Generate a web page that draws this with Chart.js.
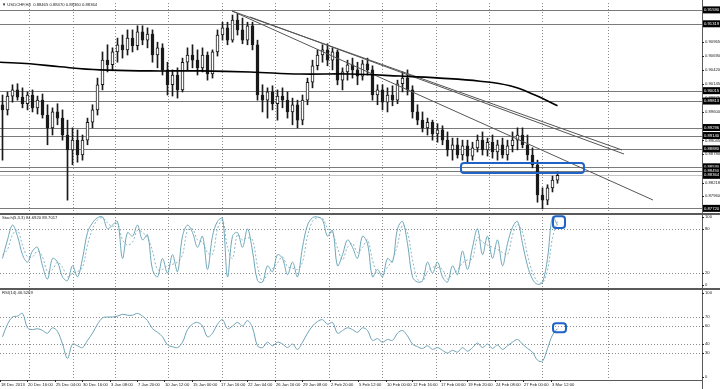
<!DOCTYPE html>
<html>
<head>
<meta charset="utf-8">
<script src="https://cdn.jsdelivr.net/npm/chart.js@4.4.1/dist/chart.umd.min.js"></script>
<style>
  body { margin: 0; background: #fff; width: 720px; height: 389px; overflow: hidden; }
  canvas { position: absolute; left: 0; }
</style>
</head>
<body>
<canvas id="main" width="720" height="213" style="top:0px"></canvas>
<canvas id="stoch" width="720" height="75" style="top:213px"></canvas>
<canvas id="rsi" width="720" height="101" style="top:288px"></canvas>
<script>
// USDCHF H4 candles (one bar here ~ 12 hours of the original)
const opens = [
  0.8974, 0.8964, 0.8991, 0.9003, 0.8989, 0.8976, 0.8993, 0.8968, 0.8983, 0.8954,
  0.8929, 0.8960, 0.8948, 0.8915, 0.8886, 0.8905, 0.8876, 0.8905, 0.8940, 0.8964,
  0.9013, 0.9061, 0.9052, 0.9077, 0.9091, 0.9081, 0.9104, 0.9089, 0.9116, 0.9100,
  0.9112, 0.9071, 0.9085, 0.9042, 0.9013, 0.9032, 0.9003, 0.9057, 0.9071, 0.9061,
  0.9046, 0.9071, 0.9034, 0.9077, 0.9110, 0.9124, 0.9100, 0.9139, 0.9120, 0.9100,
  0.9128, 0.9091, 0.8993, 0.8983, 0.8999, 0.8976, 0.8991, 0.8983, 0.8960, 0.8974,
  0.8944, 0.8983, 0.9018, 0.9050, 0.9071, 0.9081, 0.9061, 0.9077, 0.9022, 0.9038,
  0.9052, 0.9042, 0.9030, 0.9054, 0.9042, 0.8993, 0.9003, 0.8979, 0.8993, 0.8983,
  0.9015, 0.9026, 0.9003, 0.8960, 0.8944, 0.8929, 0.8940, 0.8917, 0.8925, 0.8905,
  0.8886, 0.8896, 0.8876, 0.8894, 0.8874, 0.8890, 0.8905, 0.8886, 0.8901, 0.8882,
  0.8896, 0.8876, 0.8894, 0.8905, 0.8915, 0.8896, 0.8876, 0.8857, 0.8798, 0.8788,
  0.8812, 0.8827,
];
const highs = [
  0.8993, 0.8999, 0.9013, 0.9015, 0.9007, 0.8999, 0.9003, 0.8991, 0.8995, 0.8974,
  0.8968, 0.8976, 0.8964, 0.8944, 0.8929, 0.8925, 0.8915, 0.8948, 0.8974, 0.9026,
  0.9077, 0.9091, 0.9085, 0.9104, 0.9110, 0.9120, 0.9120, 0.9128, 0.9128, 0.9124,
  0.9120, 0.9096, 0.9093, 0.9057, 0.9042, 0.9046, 0.9065, 0.9085, 0.9091, 0.9081,
  0.9085, 0.9077, 0.9081, 0.9120, 0.9135, 0.9135, 0.9149, 0.9151, 0.9143, 0.9135,
  0.9135, 0.9100, 0.9013, 0.9007, 0.9011, 0.9003, 0.9007, 0.8999, 0.8987, 0.8983,
  0.8993, 0.9026, 0.9061, 0.9081, 0.9091, 0.9093, 0.9085, 0.9081, 0.9046, 0.9061,
  0.9065, 0.9057, 0.9061, 0.9065, 0.9050, 0.9013, 0.9013, 0.9007, 0.9011, 0.9022,
  0.9038, 0.9042, 0.9011, 0.8974, 0.8960, 0.8948, 0.8944, 0.8937, 0.8933, 0.8921,
  0.8909, 0.8909, 0.8905, 0.8905, 0.8901, 0.8915, 0.8921, 0.8909, 0.8915, 0.8905,
  0.8909, 0.8905, 0.8921, 0.8929, 0.8929, 0.8915, 0.8890, 0.8866, 0.8812, 0.8818,
  0.8835, 0.8843,
];
const lows = [
  0.8866, 0.8954, 0.8979, 0.8983, 0.8968, 0.8964, 0.8960, 0.8956, 0.8948, 0.8896,
  0.8915, 0.8935, 0.8905, 0.8788, 0.8857, 0.8862, 0.8866, 0.8896, 0.8929, 0.8954,
  0.9003, 0.9038, 0.9042, 0.9057, 0.9065, 0.9071, 0.9077, 0.9081, 0.9091, 0.9085,
  0.9057, 0.9046, 0.9032, 0.8993, 0.8991, 0.8987, 0.8999, 0.9042, 0.9046, 0.9032,
  0.9038, 0.9022, 0.9026, 0.9069, 0.9100, 0.9091, 0.9096, 0.9110, 0.9093, 0.9091,
  0.9081, 0.8983, 0.8960, 0.8948, 0.8964, 0.8944, 0.8968, 0.8948, 0.8935, 0.8929,
  0.8935, 0.8974, 0.9007, 0.9042, 0.9057, 0.9050, 0.9042, 0.9013, 0.9003, 0.9022,
  0.9026, 0.9013, 0.9022, 0.9032, 0.8983, 0.8974, 0.8964, 0.8960, 0.8972, 0.8976,
  0.8999, 0.8993, 0.8948, 0.8935, 0.8921, 0.8915, 0.8905, 0.8901, 0.8896, 0.8874,
  0.8866, 0.8870, 0.8866, 0.8862, 0.8866, 0.8882, 0.8876, 0.8874, 0.8870, 0.8866,
  0.8870, 0.8866, 0.8882, 0.8886, 0.8890, 0.8866, 0.8851, 0.8784, 0.8771, 0.8779,
  0.8804, 0.8821,
];
const closes = [
  0.8964, 0.8991, 0.9003, 0.8989, 0.8976, 0.8993, 0.8968, 0.8983, 0.8954, 0.8929,
  0.8960, 0.8948, 0.8915, 0.8886, 0.8905, 0.8876, 0.8905, 0.8940, 0.8964, 0.9013,
  0.9061, 0.9052, 0.9077, 0.9091, 0.9081, 0.9104, 0.9089, 0.9116, 0.9100, 0.9112,
  0.9071, 0.9085, 0.9042, 0.9013, 0.9032, 0.9003, 0.9057, 0.9071, 0.9061, 0.9046,
  0.9071, 0.9034, 0.9077, 0.9110, 0.9124, 0.9100, 0.9139, 0.9120, 0.9100, 0.9128,
  0.9091, 0.8993, 0.8983, 0.8999, 0.8976, 0.8991, 0.8983, 0.8960, 0.8974, 0.8944,
  0.8983, 0.9018, 0.9050, 0.9071, 0.9081, 0.9061, 0.9077, 0.9022, 0.9038, 0.9052,
  0.9042, 0.9030, 0.9054, 0.9042, 0.8993, 0.9003, 0.8979, 0.8993, 0.8983, 0.9015,
  0.9026, 0.9003, 0.8960, 0.8944, 0.8929, 0.8940, 0.8917, 0.8925, 0.8905, 0.8886,
  0.8896, 0.8876, 0.8894, 0.8874, 0.8890, 0.8905, 0.8886, 0.8901, 0.8882, 0.8896,
  0.8876, 0.8894, 0.8905, 0.8915, 0.8896, 0.8876, 0.8857, 0.8798, 0.8788, 0.8812,
  0.8827, 0.88364,
];

// moving average (bar position, value)
const maPos = [-0.5, 5.5, 11.5, 19.5, 29.5, 39.5, 49.5, 59.5, 69.5, 79.5, 87.5, 95.5, 101.5, 106.5, 111];
const maVal = [0.9057, 0.9054, 0.9048, 0.9042, 0.9040, 0.9040, 0.9038, 0.9034, 0.9034, 0.9030, 0.9026, 0.9020, 0.9011, 0.8993, 0.8972];

// trend lines: [x1, y1, x2, y2]
const trend1 = [45.9, 0.91568, 123.9, 0.88858];
const trend2 = [49.5, 0.91452, 124.3, 0.8878];
const trend3 = [45.9, 0.91568, 130.1, 0.87883];

// horizontal levels with price labels
const priceLevels = [0.91590, 0.91319, 0.90015, 0.89813, 0.89296, 0.89140, 0.88880, 0.88530, 0.88450, 0.87720];
const lastPrice = 0.88364;
const priceTicks = [0.90965, 0.90690, 0.90420, 0.90145, 0.89875, 0.89600, 0.89045, 0.88780, 0.88218, 0.87960];

// marked zones: [x1, x2, yTop, yBottom]
const mainZone = [91.7, 116.3, 0.88605, 0.88410];
const stochZone = [110.1, 112.5, 97, 81];
const rsiZone = [110.1, 112.7, 63, 53];

const stochK = [
  40, 65, 85, 70, 45, 35, 50, 55, 30, 12,
  40, 35, 15, 10, 30, 15, 40, 75, 88, 95,
  96, 80, 85, 90, 40, 75, 70, 85, 65, 72,
  25, 15, 40, 20, 45, 22, 70, 85, 75, 55,
  70, 25, 70, 90, 94, 15, 70, 75, 55, 80,
  50, 10, 8, 30, 22, 45, 40, 18, 35, 15,
  55, 85, 95, 96, 92, 70, 78, 30, 45, 65,
  55, 40, 70, 60, 15, 25, 15, 40, 35, 80,
  90, 60, 15, 8, 10, 35, 20, 35, 15, 8,
  30, 18, 50, 25, 55, 80, 45, 70, 40, 65,
  30, 60, 82, 90, 60, 30, 12, 5, 8, 40,
  96, 84.69,
];
const stochD = [
  45, 52, 72, 78, 58, 42, 42, 50, 42, 22,
  25, 35, 28, 15, 20, 22, 28, 58, 80, 92,
  95, 88, 83, 87, 65, 58, 62, 78, 75, 68,
  50, 25, 25, 30, 32, 35, 45, 78, 80, 65,
  62, 48, 45, 80, 92, 55, 40, 72, 65, 68,
  65, 30, 9, 19, 26, 34, 42, 29, 27, 25,
  35, 70, 90, 95, 94, 81, 74, 54, 38, 55,
  60, 48, 55, 65, 38, 20, 20, 28, 38, 58,
  85, 75, 38, 12, 9, 22, 28, 28, 25, 12,
  19, 24, 34, 38, 40, 68, 62, 58, 55, 52,
  48, 45, 71, 86, 75, 45, 21, 9, 7, 24,
  68, 89.7,
];
const rsiVals = [
  48, 62, 70, 71, 74, 58, 56, 57, 55, 52,
  58, 54, 40, 24, 40, 38, 36, 44, 52, 62,
  69, 70, 70, 71, 73, 72, 72, 74, 71, 66,
  57, 53, 48, 39, 37, 36, 42, 56, 62, 64,
  60, 48, 52, 62, 67, 57, 60, 64, 60, 66,
  58, 38, 36, 42, 38, 42, 40, 36, 40, 34,
  42, 52, 60, 65, 67, 62, 64, 52, 55, 58,
  56, 53, 58, 55, 44, 46, 42, 45, 44, 52,
  55, 49, 40, 37, 35, 38, 34, 36, 33, 30,
  33, 31, 36, 32, 36, 41, 36, 40, 35, 39,
  34, 38, 42, 45, 40, 35, 31, 22, 21, 35,
  50, 57,
];
const stochTicks = [100, 80, 20, 0];
const stochLevels = [80, 20];
const rsiTicks = [100, 70, 60, 40, 30, 0];
const rsiLevels = [70, 60, 40, 30];

const gridX = [5.3, 14.1, 22.5, 33.1, 43.9, 54.5, 65.3, 75.9, 86.7, 97.3, 107.9, 121.1];
const timePos = [-0.5, 4.9, 10.5, 15.9, 21.5, 26.9, 32.3, 37.9, 43.5, 48.9, 54.5, 59.9, 65.5, 71.1, 76.7, 81.9, 87.5, 92.9, 98.5, 104.1, 109.7];
const timeLabels = ["18 Dec 2013", "20 Dec 16:00", "25 Dec 04:00", "30 Dec 16:00", "3 Jan 08:00", "7 Jan 20:00",
  "10 Jan 12:00", "15 Jan 00:00", "17 Jan 16:00", "22 Jan 04:00", "26 Jan 16:00", "29 Jan 08:00", "2 Feb 20:00",
  "5 Feb 12:00", "10 Feb 00:00", "12 Feb 16:00", "17 Feb 04:00", "19 Feb 20:00", "24 Feb 08:00", "27 Feb 00:00", "3 Mar 12:00"];

const tiny = '4.2px "Liberation Sans", Arial, sans-serif';
const xAxis = { type: "linear", min: -0.5, max: 139.9, display: false, offset: false };

function vGrid(chart) {
  const { ctx, chartArea: a, scales } = chart;
  ctx.save();
  ctx.strokeStyle = "#8c8c8c";
  ctx.lineWidth = 1;
  ctx.setLineDash([1, 2]);
  gridX.forEach(function (v) {
    const x = Math.round(scales.x.getPixelForValue(v)) + 0.5;
    ctx.beginPath();
    ctx.moveTo(x, a.top);
    ctx.lineTo(x, a.bottom);
    ctx.stroke();
  });
  ctx.restore();
}

function hDotted(chart, levels) {
  const { ctx, chartArea: a, scales } = chart;
  ctx.save();
  ctx.strokeStyle = "#8c8c8c";
  ctx.lineWidth = 1;
  ctx.setLineDash([1, 2]);
  levels.forEach(function (v) {
    const y = Math.round(scales.y.getPixelForValue(v)) + 0.5;
    ctx.beginPath();
    ctx.moveTo(a.left, y);
    ctx.lineTo(a.right, y);
    ctx.stroke();
  });
  ctx.restore();
}

function axisText(chart, values, digits) {
  const { ctx, chartArea: a, scales } = chart;
  ctx.save();
  ctx.font = tiny;
  ctx.fillStyle = "#222";
  ctx.textBaseline = "middle";
  values.forEach(function (v) {
    let y = scales.y.getPixelForValue(v);
    y = Math.min(Math.max(y, a.top + 3), a.bottom - 3);
    ctx.fillRect(a.right, Math.round(y), 2, 1);
    ctx.fillText(v.toFixed(digits), a.right + 3, y);
  });
  ctx.restore();
}

function frame(chart, sepTop) {
  const { ctx, chartArea: a } = chart;
  ctx.save();
  ctx.fillStyle = "#5a5a5a";
  ctx.fillRect(a.right, 0, 1, chart.height);
  if (sepTop) ctx.fillRect(0, 0, chart.width, 2);
  ctx.restore();
}

function zone(chart, z, r) {
  const { ctx, scales } = chart;
  const x1 = scales.x.getPixelForValue(z[0]);
  const x2 = scales.x.getPixelForValue(z[1]);
  const y1 = scales.y.getPixelForValue(z[2]);
  const y2 = scales.y.getPixelForValue(z[3]);
  ctx.save();
  ctx.strokeStyle = "#1f63c6";
  ctx.lineWidth = 2;
  ctx.beginPath();
  ctx.roundRect(x1, y1, x2 - x1, y2 - y1, r);
  ctx.stroke();
  ctx.restore();
}

function header(chart, text, y) {
  const { ctx } = chart;
  ctx.save();
  ctx.font = tiny;
  ctx.fillStyle = "#222";
  ctx.textBaseline = "middle";
  ctx.fillText(text, 2, y);
  ctx.restore();
}

const pts = (vals) => vals.map((v, i) => ({ x: i, y: v }));
const seg = (t) => [{ x: t[0], y: t[1] }, { x: t[2], y: t[3] }];

new Chart("main", {
  type: "bar",
  data: {
    datasets: [
      {
        type: "line",
        data: maPos.map((x, i) => ({ x: x, y: maVal[i] })),
        borderColor: "#000",
        borderWidth: 1.6,
        pointRadius: 0,
        tension: 0.4,
        order: 0,
      },
      { type: "line", data: seg(trend1), borderColor: "#555", borderWidth: 1, pointRadius: 0, order: 0 },
      { type: "line", data: seg(trend2), borderColor: "#555", borderWidth: 1, pointRadius: 0, order: 0 },
      { type: "line", data: seg(trend3), borderColor: "#555", borderWidth: 1, pointRadius: 0, order: 0 },
      {
        data: opens.map((o, i) => ({ x: i, y: [o, closes[i]] })),
        backgroundColor: opens.map((o, i) => (closes[i] >= o ? "#ffffff" : "#1a1a1a")),
        borderColor: "#1a1a1a",
        borderWidth: 1,
        borderSkipped: false,
        barThickness: 3,
        grouped: false,
        order: 1,
      },
      {
        data: lows.map((l, i) => ({ x: i, y: [l, highs[i]] })),
        backgroundColor: "#1a1a1a",
        barThickness: 1,
        grouped: false,
        order: 2,
      },
    ],
  },
  options: {
    responsive: false,
    animation: false,
    devicePixelRatio: 1,
    events: [],
    layout: { padding: { top: 3, right: 18, bottom: 0, left: 0 } },
    plugins: { legend: { display: false }, tooltip: { enabled: false } },
    scales: {
      x: xAxis,
      y: { type: "linear", min: 0.876295, max: 0.917245, display: false },
    },
  },
  plugins: [
    {
      id: "mainDeco",
      beforeDatasetsDraw(chart) {
        const { ctx, chartArea: a, scales } = chart;
        vGrid(chart);
        ctx.save();
        ctx.lineWidth = 1;
        priceLevels.forEach(function (v) {
          const y = Math.round(scales.y.getPixelForValue(v)) + 0.5;
          ctx.strokeStyle = "#7a7a7a";
          ctx.beginPath();
          ctx.moveTo(a.left, y);
          ctx.lineTo(a.right, y);
          ctx.stroke();
        });
        const yl = Math.round(scales.y.getPixelForValue(lastPrice)) + 0.5;
        ctx.strokeStyle = "#c4c4c4";
        ctx.beginPath();
        ctx.moveTo(a.left, yl);
        ctx.lineTo(a.right, yl);
        ctx.stroke();
        ctx.restore();
      },
      afterDraw(chart) {
        const { ctx, chartArea: a, scales } = chart;
        zone(chart, mainZone, 3);
        frame(chart, false);
        axisText(chart, priceTicks, 5);
        ctx.save();
        ctx.font = tiny;
        ctx.textBaseline = "middle";
        priceLevels.concat([lastPrice]).forEach(function (v) {
          const y = scales.y.getPixelForValue(v);
          ctx.fillStyle = "#000";
          ctx.fillRect(a.right + 1, y - 3.5, 17, 7);
          ctx.fillStyle = "#fff";
          ctx.fillText(v.toFixed(5), a.right + 2, y);
        });
        ctx.restore();
        header(chart, "\u25BC USDCHF,H4  0.88465 0.88470 0.88360 0.88364", 5);
      },
    },
  ],
});

new Chart("stoch", {
  type: "line",
  data: {
    datasets: [
      { data: pts(stochK), borderColor: "#6ea7b9", borderWidth: 1, pointRadius: 0, tension: 0.35 },
      { data: pts(stochD), borderColor: "#8ab6c4", borderWidth: 1, borderDash: [2, 2], pointRadius: 0, tension: 0.35 },
    ],
  },
  options: {
    responsive: false,
    animation: false,
    devicePixelRatio: 1,
    events: [],
    layout: { padding: { top: 1, right: 18, bottom: 0, left: 0 } },
    plugins: { legend: { display: false }, tooltip: { enabled: false } },
    scales: { x: xAxis, y: { type: "linear", min: 0, max: 100, display: false } },
  },
  plugins: [
    {
      id: "stochDeco",
      beforeDatasetsDraw(chart) {
        vGrid(chart);
        hDotted(chart, stochLevels);
      },
      afterDraw(chart) {
        zone(chart, stochZone, 3);
        frame(chart, true);
        axisText(chart, stochTicks, 0);
        header(chart, "Stoch(5,3,3) 84.6920 89.7017", 5);
      },
    },
  ],
});

new Chart("rsi", {
  type: "line",
  data: {
    datasets: [
      { data: pts(rsiVals), borderColor: "#6ea2b6", borderWidth: 1, pointRadius: 0, tension: 0.35 },
    ],
  },
  options: {
    responsive: false,
    animation: false,
    devicePixelRatio: 1,
    events: [],
    layout: { padding: { top: 2, right: 18, bottom: 9, left: 0 } },
    plugins: { legend: { display: false }, tooltip: { enabled: false } },
    scales: { x: xAxis, y: { type: "linear", min: 0, max: 100, display: false } },
  },
  plugins: [
    {
      id: "rsiDeco",
      beforeDatasetsDraw(chart) {
        vGrid(chart);
        hDotted(chart, rsiLevels);
      },
      afterDraw(chart) {
        const { ctx, chartArea: a, scales } = chart;
        zone(chart, rsiZone, 3);
        frame(chart, true);
        ctx.save();
        ctx.fillStyle = "#5a5a5a";
        ctx.fillRect(0, a.bottom, a.right, 1);
        ctx.font = tiny;
        ctx.fillStyle = "#222";
        ctx.textBaseline = "top";
        timePos.forEach(function (v, i) {
          const x = scales.x.getPixelForValue(v);
          ctx.fillRect(Math.round(x), a.bottom, 1, 2);
          ctx.fillText(timeLabels[i], x + 1, a.bottom + 3);
        });
        ctx.restore();
        axisText(chart, rsiTicks, 0);
        header(chart, "RSI(14) 46.5269", 5);
      },
    },
  ],
});
</script>
</body>
</html>
